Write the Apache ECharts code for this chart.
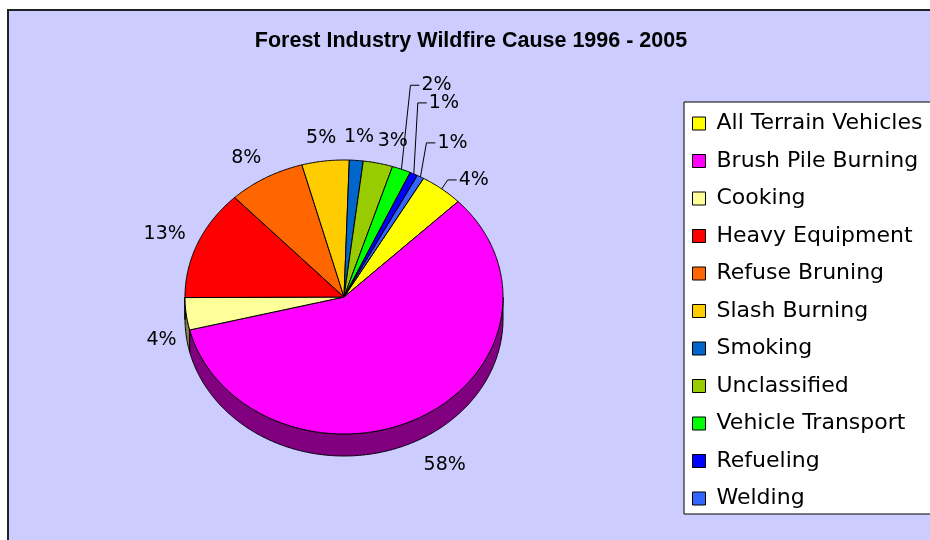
<!DOCTYPE html>
<html>
<head>
<meta charset="utf-8">
<script src="https://cdn.jsdelivr.net/npm/echarts@6/dist/echarts.min.js"></script>
<style>html,body{margin:0;padding:0;background:#fff}#chart{width:930px;height:540px}</style>
</head>
<body>
<div id="chart"></div>
<script>
// ---- data ----
const titleText = 'Forest Industry Wildfire Cause 1996 - 2005';
const categories = ['All Terrain Vehicles', 'Brush Pile Burning', 'Cooking', 'Heavy Equipment',
  'Refuse Bruning', 'Slash Burning', 'Smoking', 'Unclassified', 'Vehicle Transport', 'Refueling', 'Welding'];
const values = [4.4, 58.4, 3.8, 13.0, 7.8, 4.8, 1.4, 3.0, 1.9, 0.8, 0.7];

// ---- styles / layout ----
const palette = ['#FFFF00', '#FF00FF', '#FFFF99', '#FF0000', '#FF6600', '#FFCC00',
  '#0066CC', '#99CC00', '#00FF00', '#0000FF', '#3366FF'];
const PIE = { cx: 344, cy: 297, rx: 159, ry: 137, depth: 22, start: 30, labelRx: 195, labelRy: 160 };
const LEADERS = { 'All Terrain Vehicles': [6, -9], 'Vehicle Transport': [9, -84], 'Refueling': [4, -71], 'Welding': [6, -34] };
const NUDGE = { 'Unclassified': [7, 0], 'Cooking': [11, -2], 'Brush Pile Burning': [6, 3], 'Refuse Bruning': [-2, 0] };
const LABEL_FONT = '19px "DejaVu Sans"';
const total = values.reduce((a, b) => a + b, 0);

function pt(deg, dy, rx, ry) {
  const r = deg * Math.PI / 180;
  return [PIE.cx + (rx || PIE.rx) * Math.sin(r), PIE.cy - (ry || PIE.ry) * Math.cos(r) + (dy || 0)];
}
function arc(a, b, dy) {
  const n = Math.max(2, Math.ceil(Math.abs(b - a) / 0.5));
  const out = [];
  for (let k = 0; k <= n; k++) out.push(pt(a + (b - a) * k / n, dy));
  return out;
}
function darken(hex, f) {
  const h = hex.replace('#', '');
  const r = Math.round(parseInt(h.slice(0, 2), 16) * f);
  const g = Math.round(parseInt(h.slice(2, 4), 16) * f);
  const b = Math.round(parseInt(h.slice(4, 6), 16) * f);
  return 'rgb(' + r + ',' + g + ',' + b + ')';
}

function renderSlice(i, params, api) {
  const v = api.value(0);
  let before = 0;
  for (let k = 0; k < i; k++) before += values[k];
  const a0 = PIE.start + before / total * 360;
  const a1 = a0 + v / total * 360;
  const color = api.visual('color');
  const children = [];
  [[90, 270], [450, 630]].forEach(function (rg) {
    const s = Math.max(a0, rg[0]), e = Math.min(a1, rg[1]);
    if (e > s) {
      children.push({
        type: 'polygon', z2: 1,
        shape: { points: arc(s, e, 0).concat(arc(e, s, PIE.depth)) },
        style: { fill: darken(color, 0.5), stroke: '#000', lineWidth: 1, lineJoin: 'round' }
      });
    }
  });
  children.push({
    type: 'polygon', z2: 10,
    shape: { points: [[PIE.cx, PIE.cy]].concat(arc(a0, a1, 0)) },
    style: { fill: color, stroke: '#000', lineWidth: 1, lineJoin: 'round' }
  });
  const mid = (a0 + a1) / 2;
  const txt = Math.round(v / total * 100) + '%';
  const name = categories[i];
  const leader = LEADERS[name];
  if (leader) {
    const e = pt(mid, 0);
    const knee = [e[0] + leader[0], e[1] + leader[1]];
    children.push({
      type: 'polyline', z2: 20,
      shape: { points: [e, knee, [knee[0] + 9, knee[1]]] },
      style: { stroke: '#000', lineWidth: 1, fill: 'none' }
    });
    children.push({
      type: 'text', z2: 20,
      style: { text: txt, x: knee[0] + 11, y: knee[1], align: 'left', textAlign: 'left',
        verticalAlign: 'middle', textVerticalAlign: 'middle', font: LABEL_FONT, fill: '#000' }
    });
  } else {
    const front = Math.cos(mid * Math.PI / 180) < 0 ? PIE.depth + 3 : 0;
    const p = pt(mid, front, PIE.labelRx, PIE.labelRy);
    const nd = NUDGE[name] || [0, 0];
    children.push({
      type: 'text', z2: 20,
      style: { text: txt, x: p[0] + nd[0], y: p[1] + nd[1], align: 'center', textAlign: 'center',
        verticalAlign: 'middle', textVerticalAlign: 'middle', font: LABEL_FONT, fill: '#000' }
    });
  }
  return { type: 'group', children: children };
}

const chart = echarts.init(document.getElementById('chart'), null, { renderer: 'canvas' });
chart.setOption({
  animation: false,
  backgroundColor: '#ffffff',
  color: palette,
  graphic: [{
    type: 'rect', silent: true, z: -10,
    shape: { x: 8, y: 10, width: 940, height: 550 },
    style: { fill: '#CCCCFF', stroke: '#222', lineWidth: 2 }
  }],
  title: {
    text: titleText, left: 471, top: 30, textAlign: 'center', padding: 0,
    textStyle: { fontFamily: '"Liberation Sans", Arial, sans-serif', fontWeight: 'bold', fontSize: 21.5, color: '#000' }
  },
  legend: {
    orient: 'vertical', left: 684, top: 102, data: categories,
    icon: 'rect', itemWidth: 13, itemHeight: 13, itemGap: 13.5,
    padding: [9.5, 40, 3.5, 8],
    backgroundColor: '#fff', borderColor: '#000', borderWidth: 1,
    selectedMode: false,
    itemStyle: { borderColor: '#000', borderWidth: 1 },
    textStyle: { fontFamily: '"DejaVu Sans"', fontSize: 22, color: '#000', lineHeight: 24, padding: [0, 0, 0, 6] }
  },
  series: categories.map(function (name, i) {
    return {
      type: 'custom', name: name, coordinateSystem: 'none',
      data: [values[i]],
      renderItem: function (params, api) { return renderSlice(i, params, api); }
    };
  })
});
</script>
</body>
</html>
